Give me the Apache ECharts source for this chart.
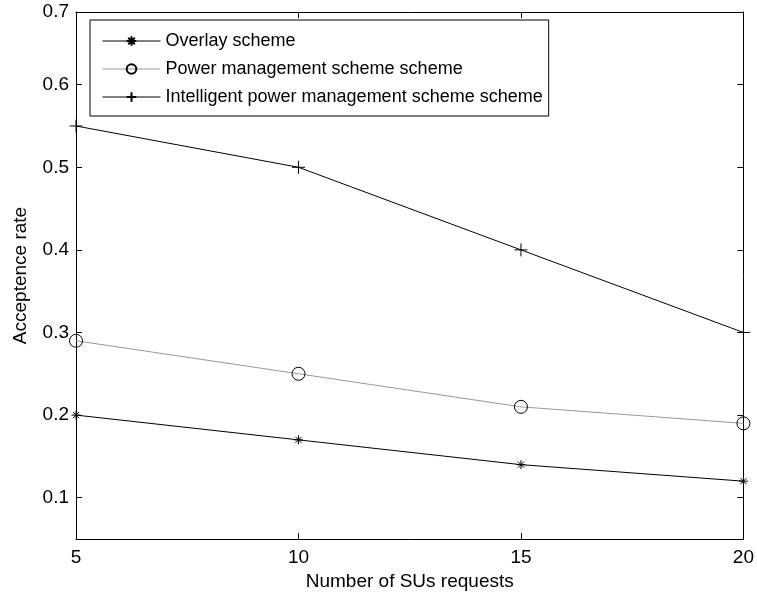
<!DOCTYPE html>
<html>
<head>
<meta charset="utf-8">
<script src="https://cdn.jsdelivr.net/npm/echarts@6/dist/echarts.min.js"></script>
<style>html,body{margin:0;padding:0;background:#fff;}#c{width:757px;height:596px;}</style>
</head>
<body>
<div id="c"></div>
<script>
const xValues = [5, 10, 15, 20];
const overlay = [0.20, 0.17, 0.14, 0.12];
const powerMgmt = [0.29, 0.25, 0.21, 0.19];
const intelligent = [0.55, 0.50, 0.40, 0.30];
const seriesNames = ['Overlay scheme', 'Power management scheme scheme', 'Intelligent power management scheme scheme'];
const xTickValues = [5, 10, 15, 20];
const yTickValues = [0.1, 0.2, 0.3, 0.4, 0.5, 0.6, 0.688];
const yTickLabels = ['0.1', '0.2', '0.3', '0.4', '0.5', '0.6', '0.7'];
const xTitle = 'Number of SUs requests';
const yTitle = 'Acceptence rate';

const FONT = 'Liberation Sans, Arial, sans-serif';
const pairs = arr => xValues.map((x, i) => [x, arr[i]]);
const starPath = 'path://M0,5L10,5M5,0L5,10M1.6,1.6L8.4,8.4M8.4,1.6L1.6,8.4';
const plusPath = 'path://M0,5L10,5M5,0L5,10';

const chart = echarts.init(document.getElementById('c'), null, {renderer: 'canvas'});
const tickCommon = {show: true, inside: true, length: 6, lineStyle: {color: '#000', width: 1}};
chart.setOption({
  animation: false,
  backgroundColor: '#fff',
  grid: {left: 76, right: 11, top: 12, bottom: 57, containLabel: false},
  legend: {
    orient: 'vertical', left: 90, top: 20,
    backgroundColor: '#fff', borderColor: '#000', borderWidth: 1,
    padding: [12, 6, 10, 12], itemWidth: 58, itemHeight: 12, itemGap: 10,
    lineStyle: {width: 1},
    textStyle: {fontFamily: FONT, fontSize: 18, color: '#000'},
    data: seriesNames
  },
  xAxis: [{
    type: 'value', min: 5, max: 20, interval: 5, position: 'bottom',
    name: xTitle, nameLocation: 'middle', nameGap: 31,
    nameTextStyle: {fontFamily: FONT, fontSize: 19, color: '#000'},
    axisLine: {show: true, onZero: false, lineStyle: {color: '#000', width: 1}},
    axisTick: tickCommon,
    axisLabel: {fontFamily: FONT, fontSize: 19, color: '#000', margin: 9,
      customValues: xTickValues},
    splitLine: {show: false}
  }, {
    type: 'value', min: 5, max: 20, interval: 5, position: 'top',
    axisLine: {show: true, onZero: false, lineStyle: {color: '#000', width: 1}},
    axisTick: tickCommon, axisLabel: {show: false}, splitLine: {show: false}
  }],
  yAxis: [{
    type: 'value', min: 0.05, max: 0.688, position: 'left',
    name: yTitle, nameLocation: 'middle', nameGap: 46, nameRotate: 90,
    nameTextStyle: {fontFamily: FONT, fontSize: 19, color: '#000'},
    axisLine: {show: true, onZero: false, lineStyle: {color: '#000', width: 1}},
    axisTick: Object.assign({}, tickCommon, {customValues: yTickValues.slice(0, 6)}),
    axisLabel: {fontFamily: FONT, fontSize: 19, color: '#000', margin: 7,
      customValues: yTickValues,
      formatter: v => yTickLabels[yTickValues.indexOf(v)]},
    splitLine: {show: false}
  }, {
    type: 'value', min: 0.05, max: 0.688, position: 'right',
    axisLine: {show: true, onZero: false, lineStyle: {color: '#000', width: 1}},
    axisTick: Object.assign({}, tickCommon, {customValues: yTickValues.slice(0, 6)}),
    axisLabel: {show: false}, splitLine: {show: false}
  }],
  series: [{
    name: seriesNames[0], type: 'line', data: pairs(overlay),
    xAxisIndex: 0, yAxisIndex: 0,
    symbol: starPath, symbolSize: 9, showAllSymbol: true,
    lineStyle: {color: '#000', width: 1},
    itemStyle: {color: 'rgba(0,0,0,0)', borderColor: '#000', borderWidth: 1}
  }, {
    name: seriesNames[1], type: 'line', data: pairs(powerMgmt),
    xAxisIndex: 0, yAxisIndex: 0,
    symbol: 'circle', symbolSize: 13,
    lineStyle: {color: '#999', width: 1},
    itemStyle: {color: 'rgba(255,255,255,0)', borderColor: '#000', borderWidth: 1}
  }, {
    name: seriesNames[2], type: 'line', data: pairs(intelligent),
    xAxisIndex: 0, yAxisIndex: 0,
    symbol: plusPath, symbolSize: 13,
    lineStyle: {color: '#000', width: 1},
    itemStyle: {color: 'rgba(0,0,0,0)', borderColor: '#000', borderWidth: 1}
  }]
});
</script>
</body>
</html>
